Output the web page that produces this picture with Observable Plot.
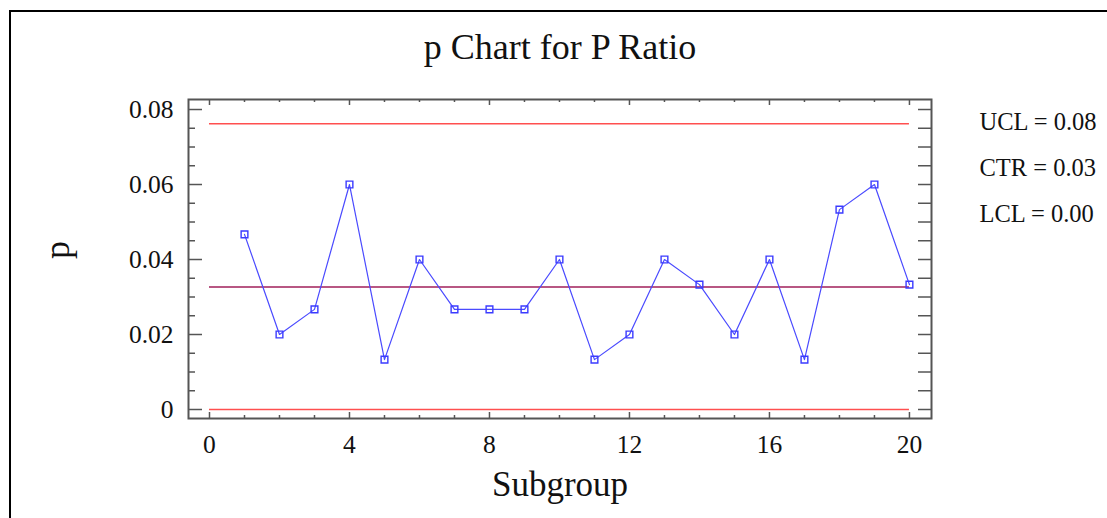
<!DOCTYPE html>
<html>
<head>
<meta charset="utf-8">
<script src="https://cdn.jsdelivr.net/npm/d3@7"></script>
<script src="https://cdn.jsdelivr.net/npm/@observablehq/plot@0.6"></script>
<style>
  html, body { margin: 0; padding: 0; background: #fff; }
  body { width: 1107px; height: 518px; overflow: hidden; position: relative; }
  #frame { position: absolute; left: 9px; top: 10px; width: 1200px; height: 600px;
           border-left: 2px solid #000; border-top: 2px solid #000; box-sizing: border-box; }
  #chart { position: absolute; left: 0; top: 0; }
</style>
</head>
<body>
<div id="frame"></div>
<div id="chart"></div>
<script>
const subgroups = [1,2,3,4,5,6,7,8,9,10,11,12,13,14,15,16,17,18,19,20];
const pValues = [0.0467,0.0200,0.0267,0.0600,0.0133,0.0400,0.0267,0.0267,0.0267,0.0400,
                 0.0133,0.0200,0.0400,0.0333,0.0200,0.0400,0.0133,0.0533,0.0600,0.0333];
const limitNames = ["UCL", "CTR", "LCL"];
const limitValues = [0.0762, 0.0327, 0.0];
const limitColors = ["#ff4f4f", "#a01f5a", "#ff4f4f"];
const xTickLabels = [0, 4, 8, 12, 16, 20];
const yTickLabels = [0, 0.02, 0.04, 0.06, 0.08];
const title = "p Chart for P Ratio";
const xLabel = "Subgroup";
const yLabel = "p";

const points = subgroups.map((s, i) => ({s, p: pValues[i]}));
const limits = limitNames.map((n, i) => ({name: n, value: limitValues[i], color: limitColors[i]}));

const W = 1107, H = 518;
const mL = 188, mR = 176, mT = 99, mB = 100;
const fw = W - mL - mR, fh = H - mT - mB;
const yMinor = d3.range(0, 0.0826, 0.005);
const xMinor = d3.range(0, 21, 1);
const axisCol = "#555";
const font = "'Liberation Serif', 'Times New Roman', serif";

const legendMarks = limits.map((d, i) =>
  Plot.text([d], {frameAnchor: "top-right", dx: 48, dy: 30 + 46 * i,
    text: d => `${d.name} = ${d.value.toFixed(2)}`,
    textAnchor: "start", lineAnchor: "bottom", fontSize: 24.5, fill: "#111"}));

const plot = Plot.plot({
  width: W, height: H,
  marginLeft: mL, marginRight: mR, marginTop: mT, marginBottom: mB,
  style: {fontFamily: font, color: "#111", background: "transparent", overflow: "visible"},
  x: {domain: [-0.6, 20.63]},
  y: {domain: [-0.0024, 0.08267]},
  marks: [
    Plot.frame({stroke: axisCol, strokeWidth: 2}),
    Plot.tickY(yMinor.filter(v => !yTickLabels.some(t => Math.abs(t - v) < 1e-9)), {y: d => d, insetRight: fw - 7, stroke: axisCol, strokeWidth: 1.5}),
    Plot.tickY(yTickLabels, {y: d => d, insetRight: fw - 14, stroke: axisCol, strokeWidth: 1.5}),
    Plot.tickY(yMinor, {y: d => d, insetLeft: fw - 13, stroke: axisCol, strokeWidth: 1.5}),
    Plot.tickX(xMinor.filter(v => v % 4 !== 0), {x: d => d, insetTop: fh - 3, stroke: axisCol, strokeWidth: 1.5}),
    Plot.tickX(xTickLabels, {x: d => d, insetTop: fh - 6, stroke: axisCol, strokeWidth: 1.5}),
    Plot.tickX(xMinor.filter(v => v % 4 !== 0), {x: d => d, insetBottom: fh - 3, stroke: axisCol, strokeWidth: 1.5}),
    Plot.tickX(xTickLabels, {x: d => d, insetBottom: fh - 6, stroke: axisCol, strokeWidth: 1.5}),
    Plot.axisY(yTickLabels, {tickSize: 0, tickPadding: 15, fontSize: 25.5, label: null,
      tickFormat: d => d === 0 ? "0" : d.toFixed(2), fill: "#111"}),
    Plot.axisX(xTickLabels, {tickSize: 0, tickPadding: 16, fontSize: 25.5, label: null, fill: "#111"}),
    Plot.ruleY(limits, {y: "value", x1: 0, x2: 20, stroke: "color", strokeWidth: 1.5}),
    Plot.line(points, {x: "s", y: "p", stroke: "#4a4aff", strokeWidth: 1.2}),
    Plot.dot(points, {x: "s", y: "p", symbol: "square", r: 3.8, stroke: "#3b3bff", fill: "none", strokeWidth: 1.4}),
    Plot.text([title], {frameAnchor: "top", dy: -41, lineAnchor: "bottom", fontSize: 36, fill: "#111"}),
    Plot.text([xLabel], {frameAnchor: "bottom", dy: 77, lineAnchor: "bottom", fontSize: 35, fill: "#111"}),
    Plot.text([yLabel], {frameAnchor: "left", dx: -120, rotate: -90, lineAnchor: "bottom", fontSize: 36, fill: "#111"}),
    ...legendMarks
  ]
});
document.getElementById("chart").appendChild(plot);
</script>
</body>
</html>
